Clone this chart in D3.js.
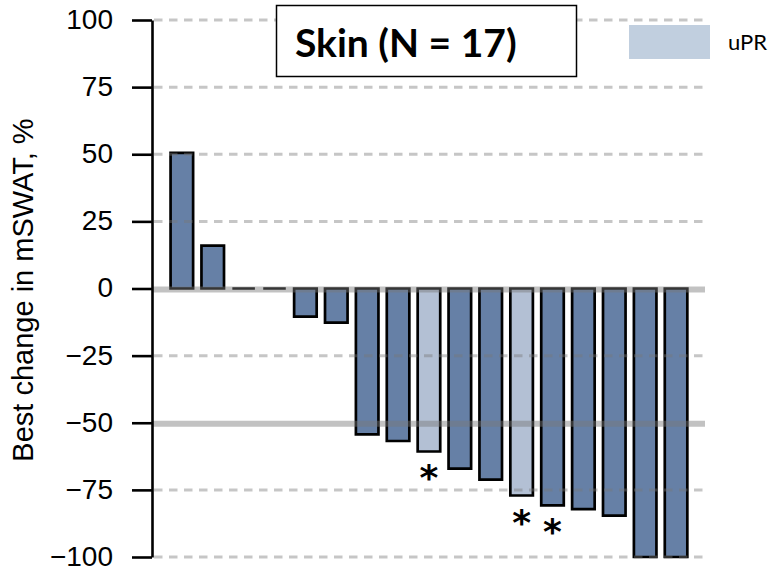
<!DOCTYPE html>
<html>
<head>
<meta charset="utf-8">
<script src="https://cdn.jsdelivr.net/npm/d3@7"></script>
<style>
  html, body { margin: 0; padding: 0; background: #fff; }
  svg { display: block; }
</style>
</head>
<body>
<svg id="chart" width="774" height="571"></svg>
<script>
// ---- data ----
const patients = ["P1","P2","P3","P4","P5","P6","P7","P8","P9","P10","P11","P12","P13","P14","P15","P16","P17"];
const bestChange = [50.5, 16, 0, 0, -10.5, -12.7, -54.3, -56.8, -60.7, -67.1, -71.2, -77.1, -80.8, -82.2, -84.6, -100, -100];
const response = ["", "", "", "", "", "", "", "", "uPR", "", "", "uPR", "", "", "", "", ""];
const starred = [false, false, false, false, false, false, false, false, true, false, false, true, true, false, false, false, false];
const yTicks = [100, 75, 50, 25, 0, -25, -50, -75, -100];
const solidRefLines = [0, -50];
const titleText = "Skin (N = 17)";
const yLabel = "Best change in mSWAT, %";
const legendLabel = "uPR";

// ---- styles ----
const darkFill = "#6680a6";
const lightFill = "#b3c0d4";
const legendFill = "#c1cfdf";

const svg = d3.select("#chart");

const x = d3.scaleBand()
  .domain(patients)
  .range([166.4, 691.5])
  .paddingInner(0.27)
  .paddingOuter(0.135);

const y = d3.scaleLinear().domain([-100, 100]).range([557, 20]);

const gridX0 = 152, gridX1 = 705;

// bars (paths so zero-height bars render as a line)
const barG = svg.append("g");
bestChange.forEach((v, i) => {
  const x0 = x(patients[i]), w = x.bandwidth();
  const y0 = y(0), y1 = y(v);
  barG.append("path")
    .attr("d", `M${x0},${y0}H${x0 + w}V${y1}H${x0}Z`)
    .attr("fill", response[i] === "uPR" ? lightFill : darkFill)
    .attr("stroke", "#000")
    .attr("stroke-width", 2.7)
    .attr("stroke-linejoin", "miter");
});

// gridlines drawn on top, semi-transparent
const gridG = svg.append("g");
yTicks.filter(t => !solidRefLines.includes(t)).forEach(t => {
  gridG.append("line")
    .attr("x1", gridX0 + 2).attr("x2", gridX1)
    .attr("y1", y(t)).attr("y2", y(t))
    .attr("stroke", "rgba(120,120,120,0.42)")
    .attr("stroke-width", 3)
    .attr("stroke-dasharray", "8.5,6.5");
});
solidRefLines.forEach(t => {
  gridG.append("line")
    .attr("x1", gridX0).attr("x2", gridX1)
    .attr("y1", y(t) + 1).attr("y2", y(t) + 1)
    .attr("stroke", "rgba(120,120,120,0.45)")
    .attr("stroke-width", 6);
});

// asterisks
starred.forEach((s, i) => {
  if (!s) return;
  svg.append("text")
    .attr("x", x(patients[i]) + x.bandwidth() / 2)
    .attr("y", y(bestChange[i]) + 39)
    .attr("text-anchor", "middle")
    .attr("font-family", "DejaVu Sans")
    .attr("font-weight", "bold")
    .attr("font-size", 36)
    .attr("fill", "#000")
    .text("*");
});

// y axis
const axis = d3.axisLeft(y).tickValues(yTicks).tickSize(20).tickSizeOuter(0).tickPadding(19);
const axG = svg.append("g").attr("transform", `translate(${gridX0},0)`).call(axis);
axG.select(".domain").attr("stroke", "#000").attr("stroke-width", 2.6);
axG.selectAll(".tick line").attr("stroke", "#000").attr("stroke-width", 2.6);
axG.selectAll(".tick text")
  .attr("font-family", "'Liberation Sans', Arial, sans-serif")
  .attr("font-size", 28)
  .attr("dy", "0.3em")
  .attr("fill", "#000");

// y label
svg.append("text")
  .attr("transform", "translate(33,290) rotate(-90)")
  .attr("text-anchor", "middle")
  .attr("font-family", "'Liberation Sans', Arial, sans-serif")
  .attr("font-size", 29)
  .attr("fill", "#000")
  .text(yLabel);

// title box
svg.append("rect")
  .attr("x", 276.5).attr("y", 5.5).attr("width", 300).attr("height", 71)
  .attr("fill", "#fff").attr("stroke", "#000").attr("stroke-width", 1.5);
svg.append("text")
  .attr("x", 295).attr("y", 57)
  .attr("font-family", "Lato, 'Open Sans', sans-serif")
  .attr("font-weight", "bold")
  .attr("font-size", 39)
  .attr("fill", "#000")
  .text(titleText);

// legend
svg.append("rect")
  .attr("x", 629).attr("y", 25).attr("width", 81).attr("height", 34)
  .attr("fill", legendFill);
svg.append("text")
  .attr("x", 728).attr("y", 50)
  .attr("font-family", "Lato, 'Open Sans', sans-serif")
  .attr("font-size", 22)
  .attr("fill", "#000")
  .text(legendLabel);
</script>
</body>
</html>
